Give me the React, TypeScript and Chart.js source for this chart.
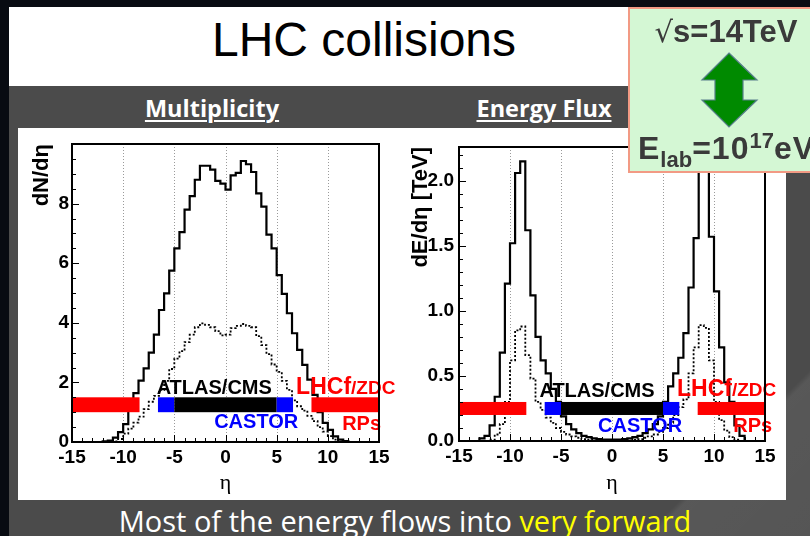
import React, { useEffect, useRef } from "react";
import { Chart, registerables } from "chart.js";

Chart.register(...registerables);

// ---------- data ----------
const etaEdges = [-15, -14.5, -14, -13.5, -13, -12.5, -12, -11.5, -11, -10.5, -10, -9.5, -9, -8.5, -8, -7.5, -7, -6.5, -6, -5.5, -5, -4.5, -4, -3.5, -3, -2.5, -2, -1.5, -1, -0.5, 0, 0.5, 1, 1.5, 2, 2.5, 3, 3.5, 4, 4.5, 5, 5.5, 6, 6.5, 7, 7.5, 8, 8.5, 9, 9.5, 10, 10.5, 11, 11.5, 12, 12.5, 13, 13.5, 14, 14.5, 15];

const multSolid = [0, 0, 0, 0, 0, 0, 0.02, 0.05, 0.15, 0.33, 0.6, 1.05, 1.64, 2.06, 2.47, 3.0, 3.6, 4.43, 4.99, 5.75, 6.5, 7.04, 7.8, 8.25, 8.8, 9.27, 9.27, 9.14, 8.76, 8.67, 8.47, 8.95, 9.03, 9.43, 9.32, 9.06, 8.34, 7.9, 6.96, 6.5, 5.6, 4.97, 4.32, 3.65, 3.09, 2.59, 2.09, 1.58, 1.0, 0.64, 0.41, 0.19, 0.08, 0.03, 0, 0, 0, 0, 0, 0];
const multDotted = [0, 0, 0, 0, 0, 0, 0, 0, 0.02, 0.1, 0.28, 0.45, 0.65, 0.85, 1.1, 1.35, 1.55, 1.75, 2.05, 2.45, 2.8, 3.05, 3.35, 3.6, 3.85, 3.98, 3.93, 3.85, 3.72, 3.58, 3.6, 3.82, 3.9, 3.96, 3.9, 3.85, 3.55, 3.25, 2.95, 2.6, 2.35, 2.05, 1.75, 1.4, 1.2, 1.05, 0.88, 0.7, 0.5, 0.35, 0.2, 0.08, 0.02, 0, 0, 0, 0, 0, 0, 0];
const energySolid = [0, 0, 0, 0, 0.02, 0.04, 0.12, 0.34, 0.68, 1.21, 1.52, 2.06, 2.15, 1.62, 1.12, 0.8, 0.62, 0.52, 0.4, 0.3, 0.19, 0.13, 0.09, 0.06, 0.04, 0.03, 0.02, 0.015, 0.01, 0.01, 0.01, 0.01, 0.015, 0.02, 0.03, 0.04, 0.06, 0.09, 0.13, 0.19, 0.3, 0.42, 0.52, 0.64, 0.83, 1.18, 1.56, 2.12, 2.1, 1.57, 1.15, 0.72, 0.45, 0.3, 0.12, 0.04, 0, 0, 0, 0];
const energyDotted = [0, 0, 0, 0, 0, 0, 0.01, 0.05, 0.13, 0.3, 0.62, 0.85, 0.88, 0.66, 0.48, 0.3, 0.24, 0.18, 0.14, 0.1, 0.07, 0.05, 0.035, 0.025, 0.015, 0.01, 0.005, 0.005, 0.005, 0.005, 0.005, 0.005, 0.005, 0.005, 0.01, 0.015, 0.025, 0.035, 0.05, 0.07, 0.1, 0.14, 0.2, 0.26, 0.32, 0.52, 0.72, 0.89, 0.87, 0.62, 0.3, 0.16, 0.08, 0.03, 0.01, 0, 0, 0, 0, 0];

const xTicks = [-15, -10, -5, 0, 5, 10, 15];
const gridEta = [-10, -5, 0, 5, 10];
const multYTicks = [0, 2, 4, 6, 8];
const energyYTicks = [0, 0.5, 1.0, 1.5, 2.0];

// detector coverage (eta ranges)
const detectorFrom = [-15, -6.6, -5, 5, 8.4];
const detectorTo = [-8.4, -5, 5, 6.6, 15];
const detectorColor = ["#ff0000", "#0000ff", "#000000", "#0000ff", "#ff0000"];

const multLabels = [
  { parts: [{ text: "ATLAS/CMS", size: 20 }], eta: -1.1, y: 1.6, color: "#000000", align: "center" },
  { parts: [{ text: "CASTOR", size: 20 }], eta: 3.0, y: 0.47, color: "#0000ff", align: "center" },
  { parts: [{ text: "LHCf", size: 23 }, { text: "/ZDC", size: 19 }], eta: 6.9, y: 1.6, color: "#ff0000", align: "left" },
  { parts: [{ text: "RPs", size: 20 }], eta: 13.3, y: 0.4, color: "#ff0000", align: "center" },
];
const energyLabels = [
  { parts: [{ text: "ATLAS/CMS", size: 20 }], eta: -1.47, y: 0.337, color: "#000000", align: "center" },
  { parts: [{ text: "CASTOR", size: 20 }], eta: 2.75, y: 0.07, color: "#0000ff", align: "center" },
  { parts: [{ text: "LHCf", size: 23 }, { text: "/ZDC", size: 19 }], eta: 6.37, y: 0.345, color: "#ff0000", align: "left" },
  { parts: [{ text: "RPs", size: 20 }], eta: 13.8, y: 0.067, color: "#ff0000", align: "center" },
];

// ---------- styling ----------
const SANS = "'Liberation Sans', Arial, Helvetica, sans-serif";
const tickFont = { family: SANS, size: 19, weight: "bold" as const };

type Panel = {
  solid: number[];
  dotted: number[];
  yMax: number;
  yTicks: number[];
  yMinorStep: number;
  yTitle: string;
  decimals: number;
  band: number[];
  labels: any[];
  left: number;
  padTop: number;
  padRight: number;
  yAxisWidth: number;
  xAxisHeight: number;
  yTickPad: number;
  yTitlePad: number;
};

const multPanel: Panel = {
  solid: multSolid,
  dotted: multDotted,
  yMax: 10,
  yTicks: multYTicks,
  yMinorStep: 0.5,
  yTitle: "dN/dη",
  decimals: 0,
  band: [1.0, 1.5],
  labels: multLabels,
  left: 18,
  padTop: 16,
  padRight: 23,
  yAxisWidth: 54,
  xAxisHeight: 58,
  yTickPad: 3,
  yTitlePad: 11,
};

const energyPanel: Panel = {
  solid: energySolid,
  dotted: energyDotted,
  yMax: 2.26,
  yTicks: energyYTicks,
  yMinorStep: 0.1,
  yTitle: "dE/dη [TeV]",
  decimals: 1,
  band: [0.2, 0.3],
  labels: energyLabels,
  left: 402,
  padTop: 19,
  padRight: 21,
  yAxisWidth: 57,
  xAxisHeight: 59,
  yTickPad: 5,
  yTitlePad: 6,
};

function toSteps(vals: number[]) {
  return etaEdges.map((e, i) => ({ x: e, y: vals[Math.min(i, vals.length - 1)] }));
}

function rootPlugin(p: Panel) {
  return {
    id: "rootStyle",
    beforeDatasetsDraw(chart: any) {
      const { ctx, chartArea: a, scales } = chart;
      const x = scales.x;
      ctx.save();
      ctx.strokeStyle = "#9a9a9a";
      ctx.lineWidth = 1;
      ctx.setLineDash([1, 2]);
      gridEta.forEach((v) => {
        const px = Math.round(x.getPixelForValue(v)) + 0.5;
        ctx.beginPath();
        ctx.moveTo(px, a.top);
        ctx.lineTo(px, a.bottom);
        ctx.stroke();
      });
      ctx.restore();
    },
    afterDatasetsDraw(chart: any) {
      const { ctx, chartArea: a, scales } = chart;
      const x = scales.x;
      const y = scales.y;
      ctx.save();
      // detector bars
      const yTop = y.getPixelForValue(p.band[1]);
      const yBot = y.getPixelForValue(p.band[0]);
      detectorFrom.forEach((f, i) => {
        const x0 = x.getPixelForValue(f);
        const x1 = x.getPixelForValue(detectorTo[i]);
        ctx.fillStyle = detectorColor[i];
        ctx.fillRect(x0, yTop, x1 - x0, yBot - yTop);
      });
      // labels
      ctx.textBaseline = "alphabetic";
      p.labels.forEach((lb: any) => {
        let total = 0;
        lb.parts.forEach((pt: any) => {
          ctx.font = `bold ${pt.size}px ${SANS}`;
          total += ctx.measureText(pt.text).width;
        });
        const ax = x.getPixelForValue(lb.eta);
        const by = y.getPixelForValue(lb.y);
        let cx = lb.align === "center" ? ax - total / 2 : ax;
        ctx.fillStyle = lb.color;
        ctx.textAlign = "left";
        lb.parts.forEach((pt: any) => {
          ctx.font = `bold ${pt.size}px ${SANS}`;
          ctx.fillText(pt.text, cx, by);
          cx += ctx.measureText(pt.text).width;
        });
      });
      // inside ticks
      ctx.strokeStyle = "#000";
      ctx.lineWidth = 1;
      ctx.setLineDash([]);
      for (let v = -15; v <= 15.001; v += 1) {
        const px = Math.round(x.getPixelForValue(v)) + 0.5;
        const major = Math.abs(v % 5) < 1e-6;
        ctx.beginPath();
        ctx.moveTo(px, a.bottom);
        ctx.lineTo(px, a.bottom - (major ? 7 : 4));
        ctx.stroke();
      }
      for (let v = 0; v <= p.yMax + 1e-6; v += p.yMinorStep) {
        const py = Math.round(y.getPixelForValue(v)) + 0.5;
        const major = p.yTicks.some((t) => Math.abs(t - v) < 1e-6);
        ctx.beginPath();
        ctx.moveTo(a.left, py);
        ctx.lineTo(a.left + (major ? 7 : 4), py);
        ctx.stroke();
      }
      // frame
      ctx.lineWidth = 2;
      ctx.strokeRect(a.left, a.top, a.right - a.left, a.bottom - a.top);
      ctx.restore();
    },
  };
}

function HistPanel({ p }: { p: Panel }) {
  const ref = useRef<HTMLCanvasElement>(null);
  useEffect(() => {
    const chart = new Chart(ref.current as HTMLCanvasElement, {
      type: "line",
      data: {
        datasets: [
          {
            data: toSteps(p.solid),
            borderColor: "#000",
            borderWidth: 2.2,
            pointRadius: 0,
            stepped: true,
            fill: false,
          },
          {
            data: toSteps(p.dotted),
            borderColor: "#000",
            borderWidth: 1.8,
            borderDash: [2, 2],
            pointRadius: 0,
            stepped: true,
            fill: false,
          },
        ],
      } as any,
      options: {
        animation: false,
        responsive: false,
        devicePixelRatio: 1,
        events: [],
        layout: { padding: { left: 0, top: p.padTop, right: p.padRight, bottom: 0 } },
        plugins: { legend: { display: false }, tooltip: { enabled: false }, title: { display: false } },
        scales: {
          x: {
            type: "linear",
            min: -15,
            max: 15,
            afterBuildTicks: (ax: any) => {
              ax.ticks = xTicks.map((v) => ({ value: v }));
            },
            afterFit: (s: any) => {
              s.height = p.xAxisHeight;
            },
            ticks: { font: tickFont, color: "#000", padding: 4, autoSkip: false, maxRotation: 0 },
            grid: { display: false, drawTicks: false },
            border: { display: false },
            title: {
              display: true,
              text: "η",
              color: "#000",
              font: { family: "'Liberation Serif', 'DejaVu Serif', serif", size: 22 },
              padding: { top: 0, bottom: 4 },
            },
          },
          y: {
            type: "linear",
            min: 0,
            max: p.yMax,
            afterBuildTicks: (ax: any) => {
              ax.ticks = p.yTicks.map((v) => ({ value: v }));
            },
            afterFit: (s: any) => {
              s.width = p.yAxisWidth;
            },
            ticks: {
              font: tickFont,
              color: "#000",
              padding: p.yTickPad,
              callback: (v: any) => Number(v).toFixed(p.decimals),
            },
            grid: { display: false, drawTicks: false },
            border: { display: false },
            title: {
              display: true,
              text: p.yTitle,
              align: "end",
              color: "#000",
              font: { family: SANS, size: 22, weight: "bold" },
              padding: { top: p.yTitlePad, bottom: 0 },
            },
          },
        },
      } as any,
      plugins: [rootPlugin(p)],
    });
    return () => chart.destroy();
  }, []);
  return (
    <canvas
      ref={ref}
      width={384}
      height={372}
      style={{ position: "absolute", left: p.left, top: 128, width: 384, height: 372 }}
    />
  );
}

export default function App() {
  return (
    <div
      style={{
        position: "fixed",
        left: 0,
        top: 0,
        width: 810,
        height: 536,
        overflow: "hidden",
        background: "#080b12",
      }}
    >
      {/* slide body */}
      <div style={{ position: "absolute", left: 9, top: 86, width: 801, height: 450, background: "#4b4b4b" }} />
      <div
        style={{
          position: "absolute",
          left: 560,
          top: 300,
          width: 400,
          height: 400,
          background: "linear-gradient(135deg, rgba(255,255,255,0) 40%, rgba(255,255,255,0.07) 41%, rgba(255,255,255,0.03) 100%)",
        }}
      />
      {/* title box */}
      <div style={{ position: "absolute", left: 9, top: 7, width: 619, height: 79, background: "#ffffff" }} />
      <div
        style={{
          position: "absolute",
          left: 164,
          width: 400,
          top: 16,
          textAlign: "center",
          fontFamily: SANS,
          fontSize: 48,
          lineHeight: "48px",
          color: "#000",
          whiteSpace: "nowrap",
        }}
      >
        LHC collisions
      </div>
      {/* section headings */}
      {[
        { t: "Multiplicity", c: 212 },
        { t: "Energy Flux", c: 544 },
      ].map((h) => (
        <div
          key={h.t}
          style={{
            position: "absolute",
            left: h.c - 100,
            width: 200,
            top: 96,
            textAlign: "center",
            fontFamily: "'Open Sans', Lato, sans-serif",
            fontWeight: 700,
            fontSize: 23.5,
            lineHeight: "24px",
            color: "#ffffff",
            textDecoration: "underline",
            textDecorationThickness: 2,
            textUnderlineOffset: 3,
            whiteSpace: "nowrap",
          }}
        >
          {h.t}
        </div>
      ))}
      {/* white plot panel */}
      <div style={{ position: "absolute", left: 18, top: 128, width: 768, height: 372, background: "#ffffff" }} />
      <HistPanel p={multPanel} />
      <HistPanel p={energyPanel} />
      {/* bottom caption */}
      <div
        style={{
          position: "absolute",
          left: 0,
          width: 810,
          top: 506,
          textAlign: "center",
          fontFamily: "'Open Sans', Lato, sans-serif",
          fontSize: 29,
          lineHeight: "29px",
          color: "#ffffff",
          whiteSpace: "nowrap",
        }}
      >
        Most of the energy flows into <span style={{ color: "#ffff00" }}>very forward</span>
      </div>
      {/* energy box */}
      <div
        style={{
          position: "absolute",
          left: 628,
          top: 7,
          width: 200,
          height: 166,
          boxSizing: "border-box",
          background: "#d4f7d4",
          border: "2px solid #f29a84",
        }}
      />
      <div
        style={{
          position: "absolute",
          left: 626,
          width: 200,
          top: 14,
          textAlign: "center",
          fontFamily: SANS,
          fontWeight: 700,
          fontSize: 31,
          lineHeight: "36px",
          color: "#3a3a3a",
          whiteSpace: "nowrap",
        }}
      >
        <span style={{ fontWeight: 400, fontFamily: "'DejaVu Sans', sans-serif", fontSize: 29 }}>√</span>s=14TeV
      </div>
      <svg style={{ position: "absolute", left: 700, top: 50 }} width={60} height={80}>
        <polygon
          points="29,3 57,30 43,30 43,50 57,50 29,77 2,50 15,50 15,30 2,30"
          fill="#008a00"
          stroke="#587f8c"
          strokeWidth={1.2}
        />
      </svg>
      <div
        style={{
          position: "absolute",
          left: 638,
          top: 130,
          fontFamily: SANS,
          fontWeight: 700,
          fontSize: 32,
          lineHeight: "36px",
          letterSpacing: 1,
          color: "#3a3a3a",
          whiteSpace: "nowrap",
        }}
      >
        E<span style={{ fontSize: 22, position: "relative", top: 8, letterSpacing: 0 }}>lab</span>=10
        <span style={{ fontSize: 22, position: "relative", top: -11, letterSpacing: 0 }}>17</span>eV
      </div>
    </div>
  );
}
